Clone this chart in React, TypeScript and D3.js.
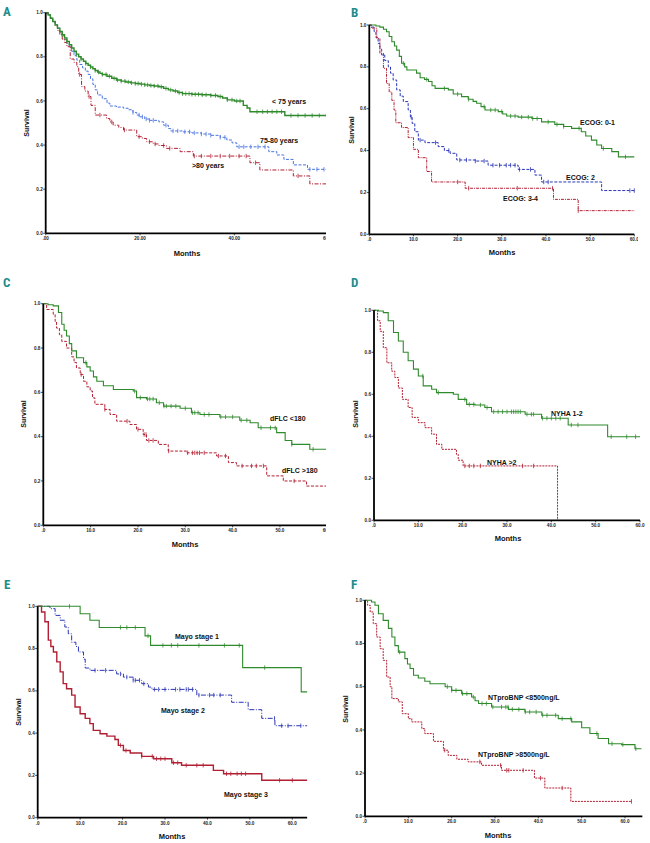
import React from 'react';
import * as d3 from 'd3';

type Pt = [number, number];

// ---------- Panel A: age ----------
const aLt75: Pt[] = [[0,1],[0.5,0.99],[1,0.975],[1.5,0.96],[2,0.945],[2.5,0.93],[3,0.915],[3.5,0.9],[4,0.885],[4.5,0.87],[5,0.855],[5.5,0.84],[6,0.825],[6.5,0.812],[7,0.8],[7.5,0.79],[8,0.78],[8.5,0.77],[9,0.762],[9.5,0.754],[10,0.746],[10.5,0.738],[11,0.731],[11.5,0.725],[12,0.72],[13,0.712],[14,0.703],[15,0.695],[16,0.69],[17,0.686],[18,0.682],[19,0.679],[20,0.676],[21,0.673],[22,0.67],[23,0.668],[24,0.664],[25,0.657],[26,0.65],[27,0.645],[28,0.638],[29,0.633],[31,0.63],[33,0.628],[35,0.625],[36.5,0.62],[37.5,0.613],[38.5,0.605],[40,0.6],[41.9,0.58],[42.7,0.568],[43.3,0.551],[50.7,0.534],[60,0.534]];
const aLt75Cens = [3.5,4.5,5.5,6.5,7.5,8.5,9.5,10.5,11.2,12,12.8,13.5,14.5,15.2,16,16.8,17.5,18.2,19,19.6,20.3,21,21.6,22.3,23,23.8,24.5,25.5,26.5,27.5,28.3,29,29.7,30.4,31,31.7,32.4,33.2,34,35,36,37,38.5,39.5,40.5,41.2,44.8,46,47,48,49,50,52,53.5,55,56.5,58,59.5];
const a7580: Pt[] = [[0,1],[0.5,0.99],[1,0.975],[1.5,0.96],[2,0.945],[2.5,0.93],[3,0.912],[3.5,0.895],[4,0.878],[4.5,0.86],[5,0.845],[5.5,0.825],[6,0.805],[6.6,0.785],[7.2,0.765],[7.8,0.75],[8.4,0.735],[9,0.72],[9.5,0.7],[10,0.675],[10.5,0.65],[11,0.627],[12,0.61],[13,0.59],[13.6,0.577],[15,0.572],[16.5,0.567],[17.5,0.56],[18.5,0.548],[19.3,0.536],[20,0.528],[21,0.518],[22,0.512],[24,0.505],[25,0.49],[26,0.475],[26.5,0.464],[29,0.46],[31,0.455],[33,0.45],[35,0.444],[37,0.435],[38.4,0.423],[39.5,0.41],[40.5,0.392],[47.3,0.37],[49,0.355],[50.5,0.335],[52.5,0.31],[55.5,0.29],[60,0.29]];
const a7580Cens = [18.5,19.8,20.5,21.3,22,22.8,25.5,27,28,29.5,30.5,31.5,33,34,35,37,38,41,42,43.5,45,46.5,56,57.5,59];
const aGt80: Pt[] = [[0,1],[0.5,0.99],[1,0.975],[1.5,0.96],[2,0.94],[2.5,0.92],[3,0.9],[3.5,0.88],[4,0.865],[4.5,0.846],[5.2,0.79],[6,0.775],[6.6,0.755],[7,0.72],[7.6,0.665],[8.3,0.645],[9,0.62],[9.6,0.58],[10.5,0.536],[12.9,0.52],[13.6,0.505],[14.3,0.49],[15.5,0.48],[16.5,0.468],[19.3,0.438],[20.5,0.43],[21.4,0.415],[22.8,0.405],[24,0.398],[25.6,0.385],[28.5,0.37],[31.3,0.35],[43.3,0.32],[45.4,0.287],[52.5,0.26],[56,0.224],[60,0.224]];
const aGt80Cens = [7.2,9.2,11.5,14,16.7,19.8,22,23.2,25,26.3,31.5,33,35,37,39,41,42.5,44.5,53.5];

// ---------- Panel B: ECOG ----------
const bEcog01: Pt[] = [[0,1],[1.5,0.995],[2.4,0.99],[3.2,0.98],[3.9,0.968],[4.5,0.945],[5.1,0.92],[5.7,0.9],[6.2,0.88],[6.8,0.85],[7.3,0.817],[8,0.8],[8.5,0.785],[10.7,0.77],[11.5,0.748],[12.5,0.74],[13.4,0.73],[14.2,0.71],[14.9,0.697],[17.9,0.69],[19,0.67],[20.9,0.658],[22.4,0.645],[23.5,0.635],[24.3,0.626],[25.3,0.61],[26.2,0.594],[29.2,0.586],[30.2,0.575],[31.1,0.565],[33.7,0.56],[36.8,0.553],[39,0.537],[42,0.525],[44,0.515],[45.8,0.506],[48,0.49],[49,0.47],[50.3,0.45],[51.5,0.427],[52.6,0.41],[54.9,0.395],[56.4,0.37],[60,0.37]];
const bEcog01Cens = [7.7,13,17,20,22.5,26,27.5,28.5,30,32,33,34.5,36,37,38,40.5,42.5,44,47.5,53,58];
const bEcog2: Pt[] = [[0,1],[0.5,0.99],[1.1,0.968],[1.5,0.94],[2,0.912],[2.4,0.885],[2.8,0.857],[3.5,0.83],[4.3,0.8],[4.8,0.77],[5.4,0.737],[6.2,0.69],[7,0.66],[7.7,0.634],[8.8,0.594],[9.3,0.56],[9.7,0.53],[10.3,0.49],[11.1,0.45],[12.6,0.438],[15.6,0.419],[17,0.4],[18.3,0.387],[19.8,0.355],[24,0.35],[26.9,0.33],[33.7,0.31],[37.5,0.283],[39,0.25],[52.6,0.209],[60,0.209]];
const bEcog2Cens = [9.5,11.5,15,18,20.5,22,24,26,28,29.5,31,32,33,34,36.5,39.5,40.5,59,60];
const bEcog34: Pt[] = [[0,1],[0.5,0.985],[1.7,0.936],[2.4,0.865],[3.2,0.793],[3.9,0.72],[4.5,0.68],[5.1,0.64],[5.6,0.594],[6,0.533],[7.3,0.51],[8.8,0.462],[10,0.406],[11.1,0.366],[13,0.3],[14.1,0.25],[21.7,0.22],[41.7,0.167],[47.3,0.113],[60,0.113]];
const bEcog34Cens = [20,22.5,33.5,41.5,47.3];

// ---------- Panel C: dFLC ----------
const cLow: Pt[] = [[0,1],[1,0.995],[2.1,0.99],[3.2,0.96],[3.9,0.907],[4.4,0.88],[4.9,0.854],[5.5,0.82],[6,0.787],[7,0.756],[8.5,0.734],[9.2,0.715],[9.9,0.696],[10.6,0.67],[11.3,0.65],[12.7,0.63],[14.8,0.613],[19,0.606],[19.7,0.576],[21.8,0.57],[23.9,0.553],[25.4,0.538],[28.9,0.528],[31.3,0.508],[33.1,0.5],[37.3,0.489],[41.5,0.474],[43.7,0.463],[45.4,0.44],[49.3,0.418],[51.1,0.383],[52.5,0.365],[56.3,0.343],[60,0.343]];
const cLowCens = [9,19.3,20.5,22,22.5,23.2,24.5,25.5,26,27,28,30,31.5,32,32.7,34,35,37.5,38.5,40,41.8,43,46,48,49,52.5,57];
const cHigh: Pt[] = [[0,1],[0.7,0.974],[2.1,0.952],[2.5,0.92],[2.8,0.89],[3.4,0.86],[3.9,0.83],[4.9,0.8],[6,0.76],[6.5,0.735],[7,0.71],[7.8,0.68],[8.5,0.65],[9.2,0.625],[9.9,0.606],[10.4,0.575],[10.9,0.546],[13,0.523],[14.1,0.5],[15.5,0.47],[18.3,0.455],[19.7,0.433],[21.1,0.41],[21.8,0.383],[24.3,0.365],[26.4,0.335],[30.3,0.327],[36.6,0.313],[39.1,0.283],[40.8,0.268],[47.2,0.223],[50.7,0.2],[55.6,0.177],[60,0.177]];
const cHighCens = [8,13,17.7,20,21.3,21.7,22.3,23.2,26.5,30.5,31.5,32,32.5,33,34,37,38.5,42,44,45,46.5,53];

// ---------- Panel D: NYHA ----------
const dNyha12: Pt[] = [[0,1],[1,0.997],[2.1,0.989],[3.2,0.95],[4.4,0.894],[5.5,0.854],[6.6,0.8],[7.7,0.76],[8.9,0.72],[10,0.687],[11.1,0.64],[13,0.624],[14.1,0.608],[17.9,0.6],[19,0.576],[20.9,0.552],[22.8,0.549],[25,0.537],[26.5,0.517],[34.1,0.505],[37.8,0.486],[43.8,0.454],[52.7,0.398],[60,0.398]];
const dNyha12Cens = [11,14.5,20.5,21.5,22.5,24,25.5,27,28,29,30,31,31.5,32,32.5,33,34.5,35.5,36,38,39,40,41,42,44.5,46,53.5,57,59];
const dNyhaGt2: Pt[] = [[0,1],[0.8,0.95],[1.4,0.9],[2.1,0.822],[2.9,0.75],[4,0.71],[4.7,0.68],[5.5,0.63],[6.4,0.576],[7.7,0.537],[8.6,0.49],[10,0.465],[11.5,0.441],[13,0.41],[14.1,0.362],[15.3,0.338],[18.6,0.314],[19,0.286],[20.1,0.259],[41.4,0]];
const dNyhaGt2Cens = [20.5,21.5,22.5,24,33.5,36];

// ---------- Panel E: Mayo stage ----------
const eMayo1: Pt[] = [[0,1],[10,0.965],[12.3,0.934],[14.5,0.9],[25.3,0.86],[26.6,0.815],[48.3,0.71],[62.1,0.595],[63.5,0.595]];
const eMayo1Cens = [7.5,19.5,21,23,26,29.5,31.5,33,38,44,47.5,53.5];
const eMayo2: Pt[] = [[0,1],[2.9,0.989],[4.1,0.957],[5.3,0.934],[6.4,0.902],[7.2,0.87],[8,0.83],[9,0.81],[9.6,0.784],[10.8,0.75],[11.2,0.708],[12.3,0.697],[18.6,0.68],[20.2,0.665],[22.5,0.65],[24.5,0.634],[26.1,0.618],[26.9,0.607],[37.5,0.58],[45.7,0.546],[49.6,0.511],[52.8,0.47],[55.9,0.435],[63.5,0.435]];
const eMayo2Cens = [13.5,16,19.5,21,22.5,23,24,25,27.5,28.5,30,32.5,33.5,35,35.5,36.5,38,40.5,41.5,43,55.8,57.5,59,62];
const eMayo3: Pt[] = [[0,1],[0.9,0.973],[1.7,0.927],[2.5,0.84],[3.1,0.81],[3.7,0.784],[4.5,0.737],[5.3,0.69],[6,0.634],[6.8,0.61],[8,0.58],[8.8,0.524],[10,0.492],[11.2,0.47],[12.3,0.445],[13.1,0.413],[14.7,0.397],[16.3,0.386],[18.2,0.37],[19,0.342],[20.2,0.318],[21.8,0.306],[24.5,0.29],[27.3,0.279],[31.6,0.26],[33.9,0.248],[41.4,0.224],[43.8,0.208],[52.8,0.177],[63.5,0.177]];
const eMayo3Cens = [19.5,20.8,24.5,27,28,29,30,32,33,35,37.5,39,44.5,45.5,47,48,49,57,60];

// ---------- Panel F: NTproBNP ----------
const fLow: Pt[] = [[0,1],[1.5,0.992],[2.3,0.977],[3.1,0.938],[4.2,0.907],[5.4,0.87],[6.2,0.83],[6.9,0.79],[7.7,0.76],[9.2,0.73],[9.8,0.705],[10.4,0.684],[11.2,0.653],[12.3,0.64],[13.8,0.625],[15,0.614],[18.5,0.6],[20,0.583],[22.3,0.568],[24.6,0.552],[25.4,0.535],[26.2,0.522],[29.2,0.506],[33.1,0.495],[36.9,0.483],[40.8,0.468],[44.6,0.452],[47.7,0.437],[50,0.41],[51.9,0.383],[53.8,0.36],[56.2,0.336],[59.2,0.332],[62.3,0.313],[63.8,0.313]];
const fLowCens = [8,19,20,21,22.5,23.5,25,27,28,29.5,31.5,32.5,33,34,35.5,37,38,39.5,41,42,44,45.5,47.5,53.5,57,59.5,62.5];
const fHigh: Pt[] = [[0,1],[0.6,0.977],[1.2,0.946],[1.9,0.892],[2.7,0.83],[3.5,0.776],[4.2,0.722],[5,0.645],[5.8,0.6],[6.2,0.545],[7.7,0.53],[8.6,0.475],[10,0.452],[10.8,0.437],[13.1,0.406],[13.8,0.383],[15.8,0.347],[18.1,0.306],[19.2,0.282],[21.2,0.264],[23.8,0.252],[26.9,0.236],[31.5,0.213],[39.1,0.177],[41.5,0.131],[47.5,0.069],[61.5,0.069]];
const fHighCens = [18.4,26.5,31.3,32.7,33.2,36.5,40.5,45.5,61.5];

// ---------- ticks ----------
const yTicks = [0, 0.2, 0.4, 0.6, 0.8, 1.0];
const yTickLabels = ['0.0', '0.2', '0.4', '0.6', '0.8', '1.0'];
const xTicks20 = [0, 20, 40, 60];
const xTickLabels20 = ['.00', '20.00', '40.00', '60.00'];
const xTicks10 = [0, 10, 20, 30, 40, 50, 60];
const xTickLabels10 = ['.0', '10.0', '20.0', '30.0', '40.0', '50.0', '60.0'];

const GREEN = '#2f8a2c';
const RED = '#b21f32';
const BLUE_LIGHT = '#4a74e0';
const BLUE = '#2a35b5';
const TEAL = '#1d8c8c';
const FONT = '"Liberation Sans", Arial, sans-serif';

interface Series {
  pts: Pt[];
  cens: number[];
  color: string;
  dash?: string;
  width: number;
  label: string;
  lx: number;
  ly: number;
}

interface PanelCfg {
  id: string;
  letter: string;
  letterX: number;
  letterY: number;
  x0: number;
  x60: number;
  xEnd: number;
  yTop: number;
  yBottom: number;
  xTicks: number[];
  xTickLabels: string[];
  clipX: number;
  monthsX: number;
  monthsY: number;
  survX: number;
  survY: number;
  series: Series[];
}

const panels: PanelCfg[] = [
  {
    id: 'A', letter: 'A', letterX: 3, letterY: 16, x0: 45.7, x60: 328.7, xEnd: 60, yTop: 12.7, yBottom: 233.3,
    xTicks: xTicks20, xTickLabels: xTickLabels20, clipX: 326, monthsX: 187, monthsY: 253, survX: 26, survY: 123,
    series: [
      { pts: a7580, cens: a7580Cens, color: BLUE_LIGHT, dash: '3,1.5', width: 1, label: '75-80 years', lx: 260, ly: 140 },
      { pts: aGt80, cens: aGt80Cens, color: RED, dash: '4,1.5,1,1.5', width: 1, label: '>80 years', lx: 192, ly: 165 },
      { pts: aLt75, cens: aLt75Cens, color: GREEN, width: 1.4, label: '< 75 years', lx: 272, ly: 101 },
    ],
  },
  {
    id: 'B', letter: 'B', letterX: 351, letterY: 17, x0: 369.3, x60: 634.3, xEnd: 60, yTop: 25, yBottom: 234.3,
    xTicks: xTicks10, xTickLabels: xTickLabels10, clipX: 638, monthsX: 502, monthsY: 252, survX: 351, survY: 130,
    series: [
      { pts: bEcog2, cens: bEcog2Cens, color: BLUE, dash: '3,1.5', width: 1, label: 'ECOG: 2', lx: 566, ly: 177 },
      { pts: bEcog34, cens: bEcog34Cens, color: RED, dash: '3,1,1,1', width: 1, label: 'ECOG: 3-4', lx: 503, ly: 198 },
      { pts: bEcog01, cens: bEcog01Cens, color: GREEN, width: 1.1, label: 'ECOG: 0-1', lx: 580, ly: 122 },
    ],
  },
  {
    id: 'C', letter: 'C', letterX: 3, letterY: 287, x0: 43.3, x60: 327.3, xEnd: 60, yTop: 303.7, yBottom: 525.3,
    xTicks: xTicks10, xTickLabels: xTickLabels10, clipX: 326, monthsX: 185, monthsY: 544, survX: 23, survY: 414,
    series: [
      { pts: cHigh, cens: cHighCens, color: RED, dash: '3,1.5', width: 1, label: 'dFLC >180', lx: 282, ly: 470 },
      { pts: cLow, cens: cLowCens, color: GREEN, width: 1.1, label: 'dFLC <180', lx: 270, ly: 418 },
    ],
  },
  {
    id: 'D', letter: 'D', letterX: 351, letterY: 287, x0: 374, x60: 640, xEnd: 60, yTop: 310.3, yBottom: 520.3,
    xTicks: xTicks10, xTickLabels: xTickLabels10, clipX: 645, monthsX: 508, monthsY: 538, survX: 355, survY: 414,
    series: [
      { pts: dNyhaGt2, cens: dNyhaGt2Cens, color: RED, dash: '2,1', width: 1, label: 'NYHA >2', lx: 487, ly: 462 },
      { pts: dNyha12, cens: dNyha12Cens, color: GREEN, width: 1.1, label: 'NYHA 1-2', lx: 551, ly: 413 },
    ],
  },
  {
    id: 'E', letter: 'E', letterX: 4, letterY: 589, x0: 37.7, x60: 292.3, xEnd: 63.5, yTop: 606.3, yBottom: 817.7,
    xTicks: xTicks10, xTickLabels: xTickLabels10, clipX: 325, monthsX: 172, monthsY: 836, survX: 18, survY: 712,
    series: [
      { pts: eMayo2, cens: eMayo2Cens, color: BLUE, dash: '5,1.5,1,1.5', width: 1, label: 'Mayo stage 2', lx: 161, ly: 710 },
      { pts: eMayo3, cens: eMayo3Cens, color: RED, width: 1.4, label: 'Mayo stage 3', lx: 224, ly: 794 },
      { pts: eMayo1, cens: eMayo1Cens, color: GREEN, width: 1.1, label: 'Mayo stage 1', lx: 175, ly: 636 },
    ],
  },
  {
    id: 'F', letter: 'F', letterX: 351, letterY: 589, x0: 365, x60: 625, xEnd: 64, yTop: 600.3, yBottom: 816.3,
    xTicks: xTicks10, xTickLabels: xTickLabels10, clipX: 650, monthsX: 498, monthsY: 835, survX: 345, survY: 709,
    series: [
      { pts: fHigh, cens: fHighCens, color: RED, dash: '2,1', width: 1, label: 'NTproBNP >8500ng/L', lx: 478, ly: 754 },
      { pts: fLow, cens: fLowCens, color: GREEN, width: 1.1, label: 'NTproBNP <8500ng/L', lx: 488, ly: 697 },
    ],
  },
];

function survAt(pts: Pt[], t: number): number {
  let s = pts[0][1];
  for (const p of pts) {
    if (p[0] <= t) s = p[1];
    else break;
  }
  return s;
}

function Panel({ cfg }: { cfg: PanelCfg }) {
  const x = d3.scaleLinear().domain([0, 60]).range([cfg.x0, cfg.x60]);
  const y = d3.scaleLinear().domain([0, 1]).range([cfg.yBottom, cfg.yTop]);
  const line = d3
    .line<Pt>()
    .x((d) => x(d[0]))
    .y((d) => y(d[1]))
    .curve(d3.curveStepAfter);
  const clipId = `clip-${cfg.id}`;
  const clipLeft = cfg.x0 - 30;
  return (
    <g>
      <defs>
        <clipPath id={clipId}>
          <rect x={clipLeft} y={cfg.yTop - 20} width={cfg.clipX - clipLeft} height={cfg.yBottom - cfg.yTop + 40} />
        </clipPath>
      </defs>
      <text x={cfg.letterX} y={cfg.letterY} fill={TEAL} fontSize={13} fontWeight="bold"
        fontFamily={'"Liberation Sans Narrow", "Roboto Condensed", "Liberation Sans", sans-serif'}>
        {cfg.letter}
      </text>
      <g clipPath={`url(#${clipId})`}>
        {cfg.series.map((s, i) => (
          <g key={i}>
            <path d={line(s.pts) || ''} fill="none" stroke={s.color} strokeWidth={s.width}
              strokeDasharray={s.dash} />
            {s.cens.map((t, j) => {
              const sv = survAt(s.pts, t);
              return (
                <line key={j} x1={x(t)} x2={x(t)} y1={y(sv) - 2.2} y2={y(sv) + 2.2}
                  stroke={s.color} strokeWidth={0.8} />
              );
            })}
          </g>
        ))}
        <line x1={x(0)} x2={x(0)} y1={y(1)} y2={y(0)} stroke="#000" strokeWidth={1.8} />
        <line x1={x(0)} x2={x(cfg.xEnd)} y1={y(0)} y2={y(0)} stroke="#000" strokeWidth={1.8} />
        {yTicks.map((v, i) => (
          <g key={i}>
            <line x1={x(0) - 2.5} x2={x(0)} y1={y(v)} y2={y(v)} stroke="#000" strokeWidth={0.7} />
            <text x={x(0) - 3} y={y(v) + 1.6} textAnchor="end" fontSize={4.6} fontWeight="bold"
              fontFamily={FONT} fill="#222">{yTickLabels[i]}</text>
          </g>
        ))}
        {cfg.xTicks.map((v, i) => (
          <g key={i}>
            <line x1={x(v)} x2={x(v)} y1={y(0)} y2={y(0) + 2} stroke="#000" strokeWidth={0.7} />
            <text x={x(v)} y={y(0) + 7} textAnchor="middle" fontSize={4.6} fontWeight="bold"
              fontFamily={FONT} fill="#222">{cfg.xTickLabels[i]}</text>
          </g>
        ))}
      </g>
      {cfg.series.map((s, i) => (
        <text key={i} x={s.lx} y={s.ly + 2.5} fontSize={7} fontWeight="bold" fontFamily={FONT} fill="#111">
          {s.label}
        </text>
      ))}
      <text x={cfg.monthsX} y={cfg.monthsY + 2.7} textAnchor="middle" fontSize={7.5} fontWeight="bold"
        fontFamily={FONT} fill="#111">Months</text>
      <text transform={`translate(${cfg.survX + 2.5},${cfg.survY}) rotate(-90)`} textAnchor="middle"
        fontSize={7} fontWeight="bold" fontFamily={FONT} fill="#111">Survival</text>
    </g>
  );
}

export default function App() {
  return (
    <svg width={650} height={843} viewBox="0 0 650 843"
      style={{ position: 'absolute', left: 0, top: 0, background: '#fff' }}>
      <rect x={0} y={0} width={650} height={843} fill="#fff" />
      {panels.map((p) => (
        <Panel key={p.id} cfg={p} />
      ))}
    </svg>
  );
}
